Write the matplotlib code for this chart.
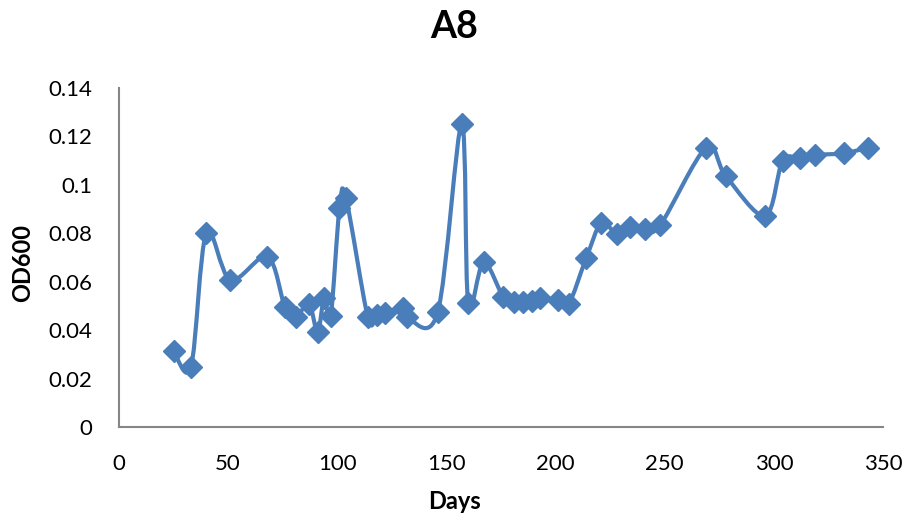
import numpy as np
import matplotlib.pyplot as plt
from matplotlib.path import Path
import matplotlib.patches as patches

plt.rcParams['font.family'] = ['Lato', 'DejaVu Sans']

# Data
days = [25, 33, 40, 51, 68, 76, 81, 87, 91, 94, 97, 101, 104, 114, 118, 122,
        130, 132, 146, 157, 160, 167, 176, 181, 185, 189, 193, 201, 206, 214,
        221, 228, 234, 241, 248, 269, 278, 296, 304, 312, 319, 332, 343]
od600 = [0.0316, 0.0250, 0.0799, 0.0607, 0.0703, 0.0497, 0.0456, 0.0508,
         0.0394, 0.0532, 0.0459, 0.0902, 0.0944, 0.0453, 0.0463, 0.0470,
         0.0490, 0.0453, 0.0474, 0.1248, 0.0511, 0.0680, 0.0538, 0.0518,
         0.0518, 0.0522, 0.0532, 0.0525, 0.0508, 0.0696, 0.0843, 0.0796,
         0.0827, 0.0816, 0.0834, 0.1152, 0.1035, 0.0871, 0.1097, 0.1108,
         0.1122, 0.1129, 0.1152]

x_ticks = [0, 50, 100, 150, 200, 250, 300, 350]
y_ticks = [0, 0.02, 0.04, 0.06, 0.08, 0.1, 0.12, 0.14]
y_ticklabels = ['0', '0.02', '0.04', '0.06', '0.08', '0.1', '0.12', '0.14']

COLOR = '#4A7EBB'
GREY = '#868686'


def smooth_path(x, y):
    # Excel-like smoothed line: cubic Bezier with Catmull-Rom control points
    pts = np.column_stack([x, y]).astype(float)
    n = len(pts)
    verts = [pts[0]]
    codes = [Path.MOVETO]
    for i in range(n - 1):
        p0 = pts[i - 1] if i > 0 else pts[i]
        p1 = pts[i]
        p2 = pts[i + 1]
        p3 = pts[i + 2] if i + 2 < n else pts[i + 1]
        c1 = p1 + (p2 - p0) / 6.0
        c2 = p2 - (p3 - p1) / 6.0
        verts += [c1, c2, p2]
        codes += [Path.CURVE4] * 3
    return Path(verts, codes)


fig = plt.figure(figsize=(9.09, 5.2), dpi=100)
ax = fig.add_axes([0.1309, 0.1783, 0.8405, 0.6534])

ax.add_patch(patches.PathPatch(smooth_path(days, od600), facecolor='none',
                               edgecolor=COLOR, lw=3, capstyle='round',
                               joinstyle='round', zorder=2))
ax.plot(days, od600, linestyle='none', marker='D', markersize=11,
        color=COLOR, zorder=3)

ax.set_xlim(0, 350)
ax.set_ylim(0, 0.14)
ax.set_xticks(x_ticks)
ax.set_yticks(y_ticks)
ax.set_yticklabels(y_ticklabels)
ax.tick_params(axis='both', length=0, labelsize=16, colors='black')
ax.tick_params(axis='x', pad=19)
ax.tick_params(axis='y', pad=19)

for side in ['top', 'right']:
    ax.spines[side].set_visible(False)
for side in ['left', 'bottom']:
    ax.spines[side].set_color(GREY)
    ax.spines[side].set_linewidth(1.5)

fig.text(0.5, 0.948, 'A8', fontsize=27, fontweight='bold',
         ha='center', va='center')
fig.text(0.5, 0.035, 'Days', fontsize=17, fontweight='bold',
         ha='center', va='center')
fig.text(0.025, 0.495, 'OD600', fontsize=17, fontweight='bold',
         ha='center', va='center', rotation=90)

fig.savefig('out.png', dpi=100)
